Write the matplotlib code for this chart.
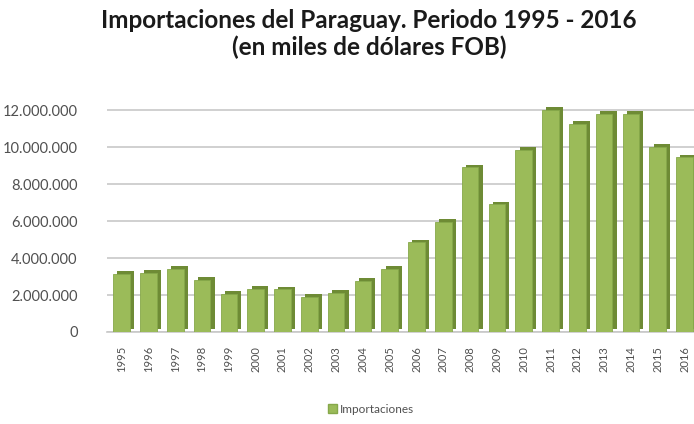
import matplotlib
matplotlib.use("Agg")
import matplotlib.pyplot as plt
import matplotlib.patheffects as pe
from matplotlib.patches import Patch
from matplotlib.ticker import FuncFormatter

# data (miles de dólares FOB)
years = [str(y) for y in range(1995, 2017)]
importaciones = [3150000, 3200000, 3400000, 2800000, 2050000, 2350000, 2300000,
                 1880000, 2100000, 2780000, 3400000, 4850000, 5950000, 8900000,
                 6900000, 9850000, 12000000, 11250000, 11800000, 11800000,
                 10000000, 9450000]
yticks = [0, 2000000, 4000000, 6000000, 8000000, 10000000, 12000000]

plt.rcParams['font.family'] = ['Lato', 'DejaVu Sans']

fig = plt.figure(figsize=(6.94, 4.24), dpi=100)
ax = fig.add_axes([0.154, 0.217, 0.846, 0.545])

bars = ax.bar(range(len(years)), importaciones, width=0.62, color='#9BBB59',
              edgecolor='#86A84A', linewidth=0.6, zorder=3)
for b in bars:
    b.set_path_effects([pe.SimplePatchShadow(offset=(3, 2), shadow_rgbFace='#6E8B35', alpha=1),
                        pe.Normal()])

ax.set_xlim(-0.55, 21.35)
ax.set_ylim(0, 12500000)
ax.set_yticks(yticks)
ax.yaxis.set_major_formatter(FuncFormatter(lambda v, p: f"{int(v):,}".replace(",", ".")))
ax.set_xticks(range(len(years)))
ax.set_xticklabels(years, rotation=90)
ax.tick_params(axis='y', length=0, labelsize=10.5, labelcolor='#505050', pad=21)
ax.tick_params(axis='x', length=0, labelsize=8, labelcolor='#505050', pad=10)

ax.grid(axis='y', color='#C8C8C8', linewidth=1.2, zorder=0)
for s in ['top', 'right', 'left']:
    ax.spines[s].set_visible(False)
ax.spines['bottom'].set_color('#C8C8C8')
ax.spines['bottom'].set_linewidth(1.2)

fig.text(0.532, 0.952, "Importaciones del Paraguay. Periodo 1995 - 2016",
         ha='center', va='center', fontsize=17.5, fontweight='bold', color='#1a1a1a')
fig.text(0.532, 0.888, "(en miles de dólares FOB)",
         ha='center', va='center', fontsize=17.5, fontweight='bold', color='#1a1a1a')

legend_patch = Patch(facecolor='#9BBB59', edgecolor='#86A84A', label='Importaciones')
fig.legend(handles=[legend_patch], loc='center',
           bbox_to_anchor=(0.535, 0.035), frameon=False, fontsize=8.5,
           handlelength=0.7, handleheight=0.7, handletextpad=0.3,
           labelcolor='#505050')

fig.savefig('out.png', dpi=100)
